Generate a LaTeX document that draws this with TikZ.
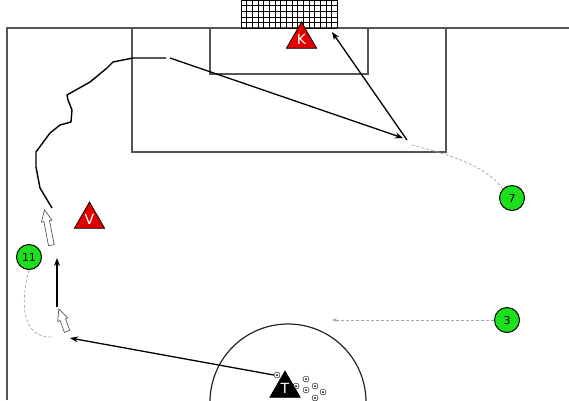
\documentclass[tikz,border=0pt]{standalone}
\usepackage{fontspec}
\setmainfont{DejaVu Sans}
\usetikzlibrary{arrows.meta,shapes.geometric,shapes.arrows,calc}

\definecolor{fieldgray}{HTML}{555555}
\definecolor{playergreen}{HTML}{1BE01B}
\definecolor{foered}{HTML}{E00000}

\tikzset{
  field/.style={draw=fieldgray, line width=1.2pt},
  player/.style={draw, circle, fill=playergreen, line width=1pt, minimum size=25pt, inner sep=0pt, font=\fontsize{11}{13}\selectfont},
  foe/.style={draw, regular polygon, regular polygon sides=3, fill=foered, line width=0.7pt, minimum size=35pt, inner sep=0pt, text=white, font=\fontsize{14}{16}\selectfont},
  ball/.style={draw, circle, minimum size=6pt, inner sep=0pt, line width=0.4pt, path picture={\fill (path picture bounding box.center) circle (1pt);}},
  pass/.style={line width=1.3pt, -{Stealth[length=8pt, width=6pt]}},
  run/.style={draw=gray!70, line width=0.7pt, dash pattern=on 3pt off 2pt},
  move/.style={draw=gray!70!black, fill=white, single arrow, line width=0.7pt, minimum width=10pt, inner sep=2.5pt, single arrow head extend=2.5pt, single arrow tip angle=50},
}

\begin{document}
\begin{tikzpicture}[x=1pt, y=-1pt]
    \useasboundingbox (0,0) rectangle (569,400);
    \clip (0,0) rectangle (569,400);

    % Draw field
    \draw[field] (7,400) -- (7,28) -- (569,28);
    \draw[field] (132,28) -- (132,152) -- (446,152) -- (446,28);
    \draw[field] (210,28) -- (210,74) -- (368,74) -- (368,28);
    \draw[field, draw=black!85] (288,402) circle (78);

    % Goal net
    \foreach \x in {0,...,17}
        \draw[line width=0.4pt] ({241+\x*5.65},0) -- ({241+\x*5.65},28);
    \foreach \y in {0,...,5}
        \draw[line width=0.4pt] (241,{28-\y*5.6}) -- (337,{28-\y*5.6});

    % Players and opponents
    \node[player] (p11) at (29,257) {11};
    \node[player] (p7) at (512,198) {7};
    \node[player] (p3) at (507,320) {3};
    \node[foe] (K) at (301.5,39.5) {K};
    \node[foe] (V) at (89.5,219.5) {V};
    \node[foe, fill=black] (T) at (285,388.5) {T};

    % Balls
    \node[ball] (b1) at (277,375) {};
    \node[ball] (b2) at (306,379) {};
    \node[ball] (b3) at (296,386) {};
    \node[ball] (b4) at (306,390) {};
    \node[ball] (b5) at (315,386) {};
    \node[ball] (b6) at (323,392) {};
    \node[ball] (b7) at (315,398) {};

    % Route points
    \coordinate (recv) at (70,338);
    \coordinate (run11) at (52,337);
    \coordinate (up1) at (57,307);
    \coordinate (up2) at (57,258);
    \coordinate (dribA) at (52,208);
    \coordinate (dribB) at (166,58);
    \coordinate (cross) at (170,58);
    \coordinate (cross2) at (403,138);
    \coordinate (run7) at (412,145);
    \coordinate (shot0) at (407,140);
    \coordinate (shot1) at (332,32);
    \coordinate (run3) at (332,320);

    % Hollow runs
    \node[move, minimum height=24pt, rotate=110] (m1) at (64,323) {};
    \node[move, minimum height=36pt, rotate=101] (m2) at (48.5,230.5) {};

    % Passes
    \draw[pass] (b1.west) -- (recv);
    \draw[pass] (up1) -- (up2);
    \draw[pass] (cross) -- (cross2);
    \draw[pass] (shot0) -- (shot1);

    % Dribble
    \draw[line width=1.4pt, line join=round] (dribA) -- (40,188) -- (36,167) -- (36,152)
        -- (50,133) -- (60,125) -- (71,122) -- (72,110) -- (68,100) -- (67,95)
        -- (90,82) -- (107,68) -- (113,62) -- (133,58) -- (dribB);

    % Runs without ball
    \draw[run] (p11.south) .. controls (21,300) and (20,338) .. (run11);
    \draw[run] (p7.north west) .. controls (485,165) and (450,155) .. (run7);
    \draw[run, -{Stealth[open, length=5pt, width=4pt]}] (p3.west) -- (run3);
\end{tikzpicture}
\end{document}
